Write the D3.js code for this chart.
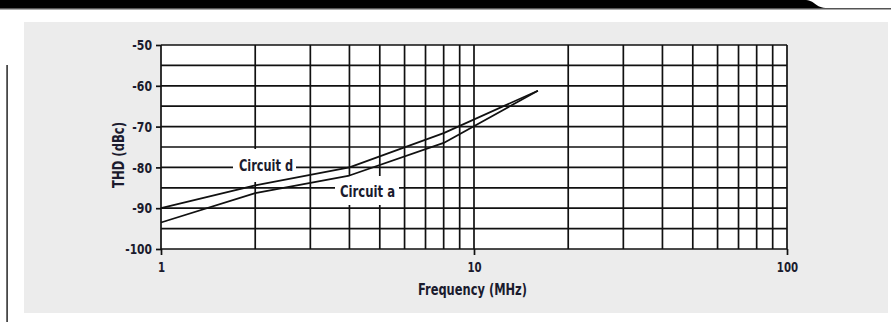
<!DOCTYPE html>
<html>
<head>
<meta charset="utf-8">
<script src="https://cdn.jsdelivr.net/npm/d3@7"></script>
<style>
  html, body { margin: 0; padding: 0; background: #fff; }
  svg { display: block; }
  text { font-family: "Liberation Sans Narrow", "DejaVu Sans Condensed", "Arial Narrow", sans-serif; font-weight: bold; fill: #1b1b2e; }
</style>
</head>
<body>
<script>
// THD vs frequency for the two circuits
const freqD = [1, 2, 4, 8, 16];
const thdD  = [-90, -84.4, -80, -71.6, -61.2];
const freqA = [1, 2, 4, 8, 16];
const thdA  = [-93.5, -86.3, -82, -74, -61.2];

const xTickLabels = [1, 10, 100];
const yTickLabels = [-50, -60, -70, -80, -90, -100];
const xGridValues = [1,2,3,4,5,6,7,8,9,10,20,30,40,50,60,70,80,90,100];
const yGridValues = [-50,-55,-60,-65,-70,-75,-80,-85,-90,-95,-100];

const W = 891, H = 322;
const svg = d3.select("body").append("svg").attr("width", W).attr("height", H);

// condensed text: squeeze to a narrow width
const narrow = (sel, perChar) => sel.each(function () {
  const t = this.textContent;
  let w = 0;
  for (const c of t) w += perChar(c);
  d3.select(this).attr("textLength", w).attr("lengthAdjust", "spacingAndGlyphs");
});
const digitW = c => (c === "-" ? 5.5 : 7.1);

// page header band with tab
svg.append("path")
  .attr("d", "M0,0 H804 C816,0 814,8 828,8 H0 Z")
  .attr("fill", "#000");
svg.append("rect").attr("x", 0).attr("y", 8).attr("width", W).attr("height", 1.5).attr("fill", "#555");
// margin rule
svg.append("rect").attr("x", 6.3).attr("y", 65).attr("width", 1.6).attr("height", H - 65).attr("fill", "#333");

// grey panel
svg.append("rect").attr("x", 24).attr("y", 22).attr("width", 864).attr("height", 291).attr("fill", "#ececec");

const x = d3.scaleLog().domain([1, 100]).range([161, 787]);
const y = d3.scaleLinear().domain([-100, -50]).range([249, 45]);

// plot area
svg.append("rect")
  .attr("x", x(1)).attr("y", y(-50))
  .attr("width", x(100) - x(1)).attr("height", y(-100) - y(-50))
  .attr("fill", "#fff");

const gridColor = "#111";
const gridW = 1.7;

// vertical grid
svg.append("g").selectAll("line").data(xGridValues).join("line")
  .attr("x1", d => x(d)).attr("x2", d => x(d))
  .attr("y1", y(-50)).attr("y2", y(-100))
  .attr("stroke", gridColor).attr("stroke-width", gridW);
// horizontal grid
svg.append("g").selectAll("line").data(yGridValues).join("line")
  .attr("x1", x(1)).attr("x2", x(100))
  .attr("y1", d => y(d)).attr("y2", d => y(d))
  .attr("stroke", gridColor).attr("stroke-width", gridW);

// axes with outward ticks
const plain = d => String(d);
const yAxis = d3.axisLeft(y).tickValues(yTickLabels).tickSize(5).tickPadding(4).tickFormat(plain);
const gy = svg.append("g").attr("transform", `translate(${x(1)},0)`).call(yAxis);
gy.attr("font-family", null).attr("font-size", null);
gy.select(".domain").remove();
gy.selectAll(".tick line").attr("stroke", gridColor).attr("stroke-width", gridW);
gy.selectAll(".tick text").attr("font-size", 14.5).call(narrow, digitW);

const xAxis = d3.axisBottom(x).tickValues(xTickLabels).tickSize(6).tickPadding(7).tickFormat(plain);
const gx = svg.append("g").attr("transform", `translate(0,${y(-100)})`).call(xAxis);
gx.attr("font-family", null).attr("font-size", null);
gx.select(".domain").remove();
gx.selectAll(".tick line").attr("stroke", gridColor).attr("stroke-width", gridW);
gx.selectAll(".tick text").attr("font-size", 14.5).call(narrow, digitW);

// axis titles
svg.append("text")
  .attr("x", 472.5).attr("y", 295)
  .attr("text-anchor", "middle").attr("font-size", 16)
  .attr("textLength", 109).attr("lengthAdjust", "spacingAndGlyphs")
  .text("Frequency (MHz)");
svg.append("text")
  .attr("transform", "translate(124,155) rotate(-90)")
  .attr("text-anchor", "middle").attr("font-size", 16)
  .attr("textLength", 66).attr("lengthAdjust", "spacingAndGlyphs")
  .text("THD (dBc)");

// label boxes masking the grid
svg.append("rect").attr("x", 233).attr("y", 149).attr("width", 63).attr("height", 33).attr("fill", "#fff");
svg.append("rect").attr("x", 335).attr("y", 176).attr("width", 64).attr("height", 29).attr("fill", "#fff");

const line = d3.line().x(d => x(d[0])).y(d => y(d[1]));
const seriesD = freqD.map((f, i) => [f, thdD[i]]);
const seriesA = freqA.map((f, i) => [f, thdA[i]]);
[seriesD, seriesA].forEach(s => {
  svg.append("path").datum(s).attr("d", line)
    .attr("fill", "none").attr("stroke", "#111").attr("stroke-width", 1.7)
    .attr("stroke-linejoin", "round");
});

svg.append("text").attr("x", 239).attr("y", 170.5).attr("font-size", 16)
  .attr("textLength", 54).attr("lengthAdjust", "spacingAndGlyphs").text("Circuit d");
svg.append("text").attr("x", 340).attr("y", 197).attr("font-size", 16)
  .attr("textLength", 55).attr("lengthAdjust", "spacingAndGlyphs").text("Circuit a");
</script>
</body>
</html>
